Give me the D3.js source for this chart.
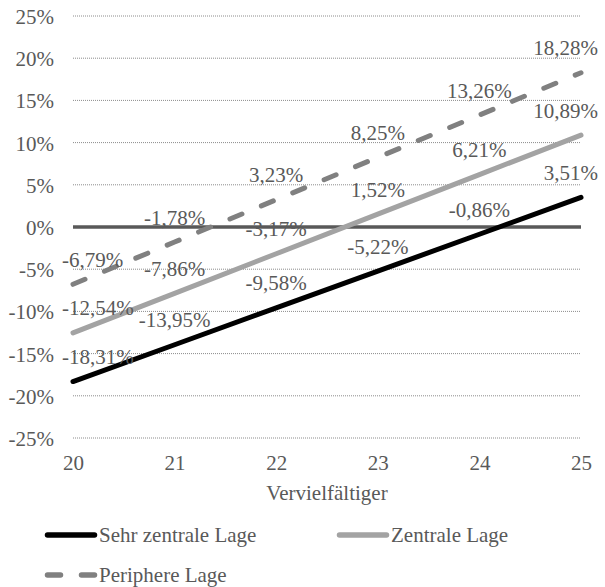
<!DOCTYPE html>
<html>
<head>
<meta charset="utf-8">
<script src="https://cdn.jsdelivr.net/npm/d3@7"></script>
<style>
  html, body { margin: 0; padding: 0; background: #fff; }
  svg text { font-family: "Liberation Serif", "Times New Roman", Tinos, "DejaVu Serif", serif !important; }
</style>
</head>
<body>
<svg id="chart" width="605" height="587"></svg>
<script>
// Vervielfältiger (x) and the resulting change in percent per location class
const categories = [20, 21, 22, 23, 24, 25];
const sehrZentral = [-18.31, -13.95, -9.58, -5.22, -0.86, 3.51];
const zentral = [-12.54, -7.86, -3.17, 1.52, 6.21, 10.89];
const peripher = [-6.79, -1.78, 3.23, 8.25, 13.26, 18.28];
const seriesNames = ["Sehr zentrale Lage", "Zentrale Lage", "Periphere Lage"];
const yTicks = [-25, -20, -15, -10, -5, 0, 5, 10, 15, 20, 25];
const xTitle = "Vervielfältiger";

const series = [
  { name: seriesNames[0], values: sehrZentral, color: "#000000", dash: null },
  { name: seriesNames[1], values: zentral, color: "#a3a3a3", dash: null },
  { name: seriesNames[2], values: peripher, color: "#808080", dash: "13,21" }
];

const de = d3.formatLocale({ decimal: ",", thousands: ".", grouping: [3], currency: ["", " €"], minus: "-" });
const fmtVal = v => de.format(".2f")(v) + "%";
const fmtTick = v => de.format("d")(v) + "%";

const svg = d3.select("#chart");
const textColor = "#595959";
const fontSize = 21;

const plotLeft = 73, plotRight = 581, plotTop = 16, plotBottom = 438;
const x = d3.scaleLinear().domain([20, 25]).range([plotLeft, plotRight]);
const y = d3.scaleLinear().domain([-25, 25]).range([plotBottom, plotTop]);

// dotted gridlines
svg.append("g").selectAll("line")
  .data(yTicks.filter(t => t !== 0))
  .join("line")
  .attr("x1", plotLeft).attr("x2", plotRight)
  .attr("y1", d => y(d)).attr("y2", d => y(d))
  .attr("stroke", "#8c8c8c").attr("stroke-width", 1)
  .attr("stroke-dasharray", "1,1");

// horizontal axis line at 0 %
svg.append("line")
  .attr("x1", plotLeft).attr("x2", plotRight)
  .attr("y1", y(0)).attr("y2", y(0))
  .attr("stroke", "#595959").attr("stroke-width", 3.3);

// y axis labels
const yAxis = svg.append("g")
  .attr("transform", `translate(${plotLeft},0)`)
  .call(d3.axisLeft(y).tickValues(yTicks).tickFormat(fmtTick).tickSize(0).tickPadding(19));
yAxis.select(".domain").remove();
yAxis.attr("font-family", null).attr("font-size", null);
yAxis.selectAll("text")
  .attr("dy", "0.36em")
  .attr("fill", textColor)
  .style("font-size", fontSize + "px");

// x axis labels
const xAxis = svg.append("g")
  .attr("transform", `translate(0,${plotBottom})`)
  .call(d3.axisBottom(x).tickValues(categories).tickFormat(d3.format("d")).tickSize(0).tickPadding(17));
xAxis.select(".domain").remove();
xAxis.attr("font-family", null).attr("font-size", null);
xAxis.selectAll("text")
  .attr("fill", textColor)
  .style("font-size", fontSize + "px");

// x axis title
svg.append("text")
  .attr("x", (plotLeft + plotRight) / 2).attr("y", 500)
  .attr("text-anchor", "middle")
  .attr("fill", textColor)
  .style("font-size", fontSize + "px")
  .text(xTitle);

// series lines
const line = d3.line()
  .x((d, i) => x(categories[i]))
  .y(d => y(d));

svg.append("g").selectAll("path")
  .data(series)
  .join("path")
  .attr("d", d => line(d.values))
  .attr("fill", "none")
  .attr("stroke", d => d.color)
  .attr("stroke-width", 5)
  .attr("stroke-linecap", "round")
  .attr("stroke-dasharray", d => d.dash);

// data labels above each point
const labelGroup = svg.append("g");
series.forEach(s => {
  s.values.forEach((v, i) => {
    const last = i === categories.length - 1;
    const first = i === 0;
    labelGroup.append("text")
      .attr("x", first ? 62 : last ? 598 : x(categories[i]))
      .attr("y", y(v) - 17.5)
      .attr("text-anchor", first ? "start" : last ? "end" : "middle")
      .attr("fill", textColor)
      .style("font-size", fontSize + "px")
      .text(fmtVal(v));
  });
});

// legend
const legendItems = [
  { s: series[0], lx: 45, ly: 535 },
  { s: series[1], lx: 337, ly: 535 },
  { s: series[2], lx: 45, ly: 575 }
];
const legend = svg.append("g");
legendItems.forEach(it => {
  legend.append("line")
    .attr("x1", it.lx + 2.5).attr("x2", it.lx + 49.5)
    .attr("y1", it.ly).attr("y2", it.ly)
    .attr("stroke", it.s.color)
    .attr("stroke-width", 5.5)
    .attr("stroke-linecap", "round")
    .attr("stroke-dasharray", it.s.dash ? "13,21" : null);
  legend.append("text")
    .attr("x", it.lx + 54).attr("y", it.ly + 6.5)
    .attr("fill", textColor)
    .style("font-size", fontSize + "px")
    .text(it.s.name);
});
</script>
</body>
</html>
